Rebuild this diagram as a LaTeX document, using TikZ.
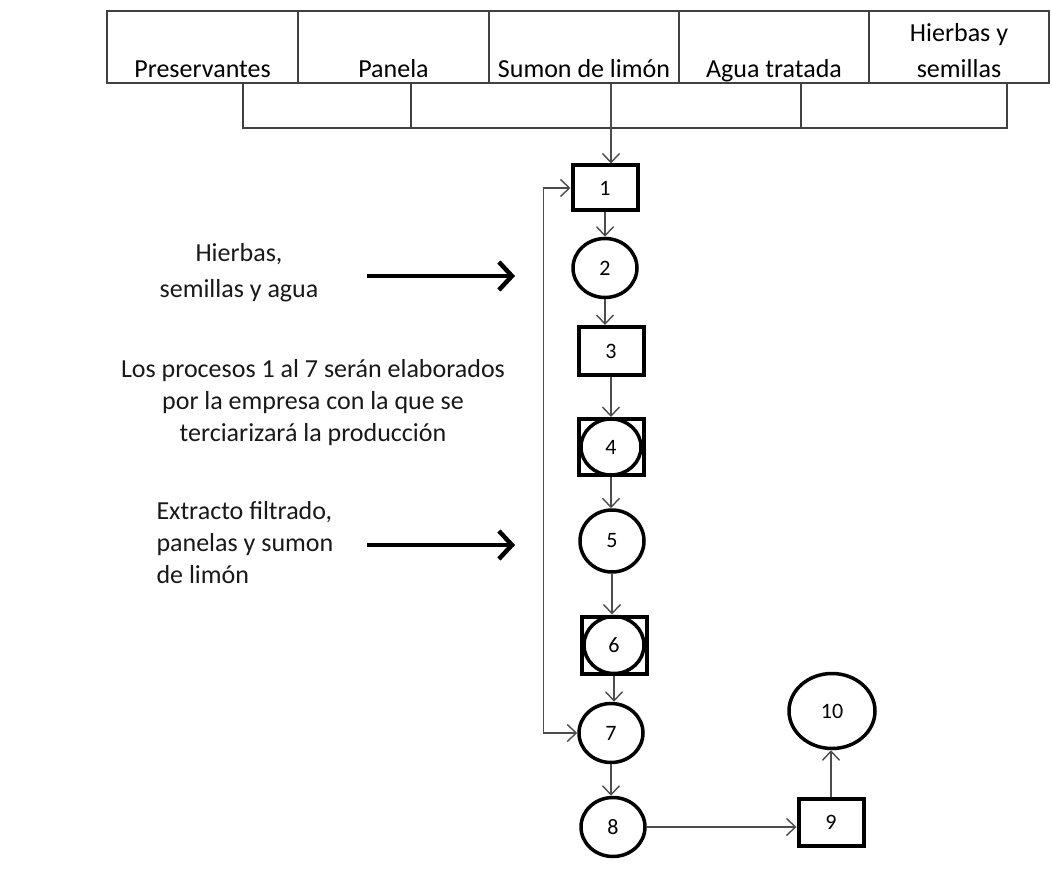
\documentclass[tikz,border=0pt]{standalone}
\usepackage{fontspec}
\setmainfont{Carlito}
\usetikzlibrary{arrows.meta,shapes.geometric}

\begin{document}
\begin{tikzpicture}[x=1pt, y=-1pt, >={Straight Barb[length=9pt,width=17pt]},
    every node/.style={font=\fontsize{26}{36}\selectfont},
    cell/.style={draw=black!75, line width=2pt, minimum height=72pt, inner sep=0pt},
    celllab/.style={anchor=south, align=center, inner sep=4pt, text depth=0.25em},
    opbox/.style={draw, line width=4pt, minimum width=65pt, minimum height=45pt, inner sep=0pt, font=\fontsize{22}{22}\selectfont},
    opcirc/.style={draw, ellipse, line width=3.5pt, minimum width=64pt, minimum height=59pt, inner sep=0pt, font=\fontsize{22}{22}\selectfont},
    note/.style={align=center, text=black!90},
    feed/.style={draw=black!75, line width=2pt},
    flow/.style={draw=black!70, line width=1.4pt, ->},
    bigarrow/.style={line width=4.5pt, -{Straight Barb[length=13pt,width=28pt]}}]
\fill[white] (0,0) rectangle (1052,893);
\useasboundingbox (0,0) rectangle (1052,893);

% insumos
\node[cell, minimum width=191pt, label={[celllab]south:Preservantes}] (pres) at (202.5,47) {};
\node[cell, minimum width=191pt, label={[celllab]south:Panela}] (panela) at (393.5,47) {};
\node[cell, minimum width=190pt, label={[celllab]south:Sumon de limón}] (sumon) at (584,47) {};
\node[cell, minimum width=190pt, label={[celllab]south:Agua tratada}] (agua) at (774,47) {};
\node[cell, minimum width=180pt, label={[celllab]south:{Hierbas y\\semillas}}] (hierbas) at (959,47) {};
\coordinate (bus) at (611,128);

% procesos
\node[opbox] (n1) at (605,188) {1};
\node[opcirc] (n2) at (605,268) {2};
\node[opbox, minimum height=48pt] (n3) at (611,351) {3};
\node[opbox, minimum height=56pt] (n4) at (611,447) {};
\node[opcirc, minimum width=60pt, minimum height=56pt] (c4) at (n4) {4};
\node[opcirc, minimum height=62pt] (n5) at (612,541) {5};
\node[opbox, minimum height=57pt] (n6) at (614,645) {};
\node[opcirc, minimum width=60pt, minimum height=57pt] (c6) at (n6) {6};
\node[opcirc] (n7) at (611,733) {7};
\node[opcirc] (n8) at (613,827) {8};
\node[opbox, minimum height=47pt] (n9) at (831,822) {9};
\node[opcirc, minimum width=86pt, minimum height=75pt] (n10) at (832,711) {10};

% notas
\node[note] (entrada1) at (239,273) {Hierbas,\\semillas y agua};
\node[note, font=\fontsize{26}{32}\selectfont] (nota) at (313,403) {Los procesos 1 al 7 serán elaborados\\por la empresa con la que se\\terciarizará la producción};
\node[note, align=left, anchor=west, font=\fontsize{26}{32}\selectfont] (entrada2) at (153,543) {Extracto filtrado,\\panelas y sumon\\de limón};
\coordinate (in1) at (515,276);
\coordinate (in2) at (515,545);

\draw[feed] ([xshift=40pt]pres.south) |- (bus) -| ([xshift=48pt]hierbas.south);
\draw[feed] ([xshift=17.5pt]panela.south) -- ([xshift=17.5pt]panela.south |- bus);
\draw[feed] ([xshift=27pt]agua.south) -- ([xshift=27pt]agua.south |- bus);
\draw[flow] ([xshift=27pt]sumon.south) -- ([xshift=27pt]sumon.south |- n1.north);

\draw[flow] (n1.south) -- (n1.south |- n2.north);
\draw[flow] (n2.south) -- (n2.south |- n3.north);
\draw[flow] (n3.south) -- (n3.south |- n4.north);
\draw[flow] (n4.south) -- (n4.south |- n5.north);
\draw[flow] (n5.south) -- (n5.south |- n6.north);
\draw[flow] (n6.south) -- (n6.south |- n7.north);
\draw[flow] (n7.south) -- (n7.south |- n8.north);
\draw[flow] (n8.east) -- (n8.east -| n9.west);
\draw[flow] (n9.north) -- (n9.north |- n10.south);
\draw[flow, <->] (n1.west) -- ++(-27,0) |- (n7.west);

\draw[bigarrow] ([xshift=-148pt]in1) -- (in1);
\draw[bigarrow] ([xshift=-148pt]in2) -- (in2);
\end{tikzpicture}
\end{document}
